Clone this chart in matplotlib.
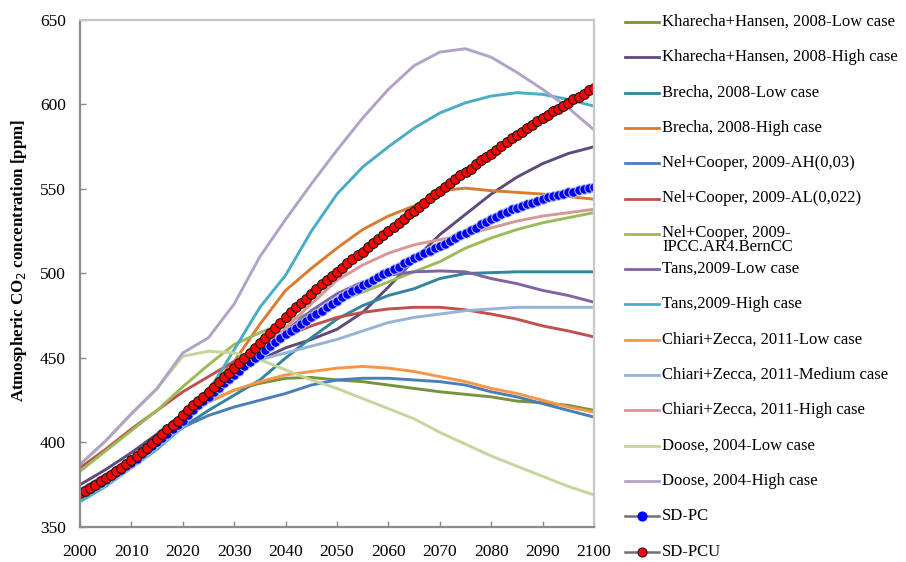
import matplotlib
matplotlib.use('Agg')
import matplotlib.pyplot as plt
from matplotlib.lines import Line2D

plt.rcParams['font.family'] = ['Liberation Serif', 'DejaVu Serif']

# Years for the literature scenarios (read every 5 years)
years = list(range(2000, 2101, 5))
# Years for the SD model runs (one marker per year)
years_all = list(range(2000, 2101))

kh_low = [371, 380, 390, 402, 414, 424, 431, 435, 438, 438.5, 437, 436, 434, 432, 430, 428.5, 427, 424.5, 423.5, 422, 419]
kh_high = [375, 384, 394, 405, 417, 429, 440, 449, 456, 461, 467, 477, 492, 508, 523, 535, 547, 557, 565, 571, 575]
brecha_low = [369, 378, 388, 398, 409, 419, 428, 437, 450, 462, 473, 481, 487, 491, 497, 500, 500.5, 501, 501, 501, 501]
brecha_high = [370, 380, 390, 402, 416, 432, 448, 470, 490, 503, 515, 526, 534, 540, 549, 550.5, 549, 548, 547, 545.5, 544]
nel_ah = [369, 378, 388, 399, 409, 416, 421, 425, 429, 434, 437, 438, 438, 437, 436, 434, 430, 427, 423, 419, 415]
nel_al = [385, 396, 408, 419, 430, 439, 448, 456, 463, 469, 474, 477, 479, 480, 480, 478.5, 476, 473, 469, 466, 462.5]
nel_ipcc = [383, 395, 407, 419, 433, 446, 458, 465, 471, 477, 483, 489, 495, 501, 507, 515, 521, 526, 530, 533, 536]
tans_low = [372, 381, 391, 403, 416, 429, 442, 454, 466, 478, 488, 495, 499, 501, 501.5, 501, 497, 494, 490, 487, 483]
tans_high = [365, 374, 385, 396, 409, 430, 455, 480, 499, 525, 547, 563, 575, 586, 595, 601, 605, 607, 606, 603, 599]
chiari_low = [370, 379, 389, 401, 414, 424, 431, 436, 440, 442, 444, 445, 444, 442, 439, 436, 432, 429, 425, 421, 418]
chiari_med = [370, 379, 389, 401, 414, 429, 443, 449, 453, 457, 461, 466, 471, 474, 476, 478, 479, 480, 480, 480, 480]
chiari_high = [370, 379, 389, 401, 414, 427, 440, 454, 468, 482, 496, 505, 512, 517, 520, 523, 527, 531, 534, 536, 538]
doose_low = [387, 401, 417, 432, 451, 454, 453, 449, 443, 437, 432, 426, 420, 414, 406, 399, 392, 386, 380, 374, 369]
doose_high = [387, 401, 417, 432, 453, 462, 482, 510, 532, 553, 573, 592, 609, 623, 631, 633, 628, 619, 609, 598, 585]

sd_pc = [370, 371.5, 373, 374.5, 376, 378, 380, 382, 384, 386,
         388, 390.5, 393, 395.5, 398, 400, 402.5, 405, 408, 410.5,
         413, 416, 419, 422, 424.5, 427, 430, 432.5, 435, 437.5,
         440, 442.5, 445, 447.5, 450, 452, 454.5, 457, 459.5, 462,
         464, 466, 468, 470, 472, 474, 476, 478, 480, 482,
         484, 486, 488, 489.5, 491, 493, 494.5, 496, 498, 499.5,
         501, 502.5, 504, 506, 507.5, 509, 510.5, 512, 513.5, 515,
         516, 517.5, 519, 521, 522.5, 524, 525.5, 527, 529, 530.5,
         532, 533.5, 535, 536.5, 538, 539, 540, 541, 542, 543,
         544, 545, 546, 546.5, 547, 548, 548.5, 549.5, 550, 550.5,
         551]
sd_pcu = [370, 371.5, 373, 375, 377, 379, 381, 383, 385, 387,
          389.5, 392, 394.5, 397, 399.5, 402, 405, 408, 410.5, 413,
          416, 419, 422, 424.5, 427, 430, 433, 436, 438.5, 441,
          444, 447, 450, 453, 456, 459, 462, 465, 468, 471,
          474, 477, 480, 482.5, 485, 488, 491, 493.5, 496, 498.5,
          501, 503.5, 506, 508.5, 511, 513, 515.5, 518, 520.5, 523,
          525, 527.5, 530, 532.5, 535, 537, 539.5, 542, 544.5, 547,
          549, 551, 553.5, 556, 558, 560, 562, 564.5, 567, 569,
          571, 573, 575.5, 578, 580, 582, 584, 586, 588, 590,
          592, 594, 596, 597.5, 599, 601, 603, 604.5, 606.5, 608.5,
          610]

labels = ['Kharecha+Hansen, 2008-Low case', 'Kharecha+Hansen, 2008-High case',
          'Brecha, 2008-Low case', 'Brecha, 2008-High case',
          'Nel+Cooper, 2009-AH(0,03)', 'Nel+Cooper, 2009-AL(0,022)',
          'Nel+Cooper, 2009-\nIPCC.AR4.BernCC',
          'Tans,2009-Low case', 'Tans,2009-High case',
          'Chiari+Zecca, 2011-Low case', 'Chiari+Zecca, 2011-Medium case',
          'Chiari+Zecca, 2011-High case',
          'Doose, 2004-Low case', 'Doose, 2004-High case',
          'SD-PC', 'SD-PCU']
series = [kh_low, kh_high, brecha_low, brecha_high, nel_ah, nel_al, nel_ipcc,
          tans_low, tans_high, chiari_low, chiari_med, chiari_high,
          doose_low, doose_high]
colors = ['#77933C', '#604A7B', '#31859C', '#D97B30', '#4A7EBB', '#C0504D',
          '#9BBB59', '#8064A2', '#4BACC6', '#F79646', '#95B3D7', '#D99694',
          '#C3D69B', '#B3A2C7']

fig = plt.figure(figsize=(9.06, 5.62), dpi=100)
ax = fig.add_axes([80 / 906, 35 / 562, 514 / 906, 507 / 562])

for vals, c in zip(series, colors):
    ax.plot(years, vals, color=c, lw=2.1, solid_joinstyle='round')

ax.plot(years_all, sd_pc, color='#808080', lw=1.5, marker='o', ms=6.8,
        markerfacecolor='#0000F0', markeredgecolor='#B8C4FF', markeredgewidth=0.7)
ax.plot(years_all, sd_pcu, color='#404040', lw=1.5, marker='o', ms=7.0,
        markerfacecolor='#FF0000', markeredgecolor='#1A1A1A', markeredgewidth=0.8)

ax.set_xlim(2000, 2100)
ax.set_ylim(350, 650)
ax.set_xticks(range(2000, 2101, 10))
ax.set_yticks(range(350, 651, 50))
ax.tick_params(direction='in', length=4, width=1, color='#8C8C8C',
               labelsize=12.5)
ax.tick_params(axis='y', pad=10)
ax.tick_params(axis='x', pad=12)
for side in ['left', 'bottom']:
    ax.spines[side].set_color('#8C8C8C')
    ax.spines[side].set_linewidth(1.6)
for side in ['top', 'right']:
    ax.spines[side].set_color('#C8C8C8')
    ax.spines[side].set_linewidth(1.6)

ax.set_ylabel('Atmospheric CO$_2$ concentration [ppm]', fontsize=12.2,
              fontweight='bold')
ax.yaxis.set_label_coords(-0.1, 0.525)

# Legend drawn entry by entry, as in the original figure
x0, x1, xt = 625 / 906, 659 / 906, 662 / 906
for i, label in enumerate(labels):
    yf = 1 - (22 + i * 35.3) / 562
    if i < len(colors):
        fig.add_artist(Line2D([x0, x1], [yf, yf], color=colors[i], lw=2.0))
    else:
        mfc = '#0000FF' if label == 'SD-PC' else '#FF0000'
        mec = '#0000FF' if label == 'SD-PC' else '#1A1A1A'
        fig.add_artist(Line2D([x0, x1], [yf, yf], color='#707070', lw=1.8))
        fig.add_artist(Line2D([(x0 + x1) / 2], [yf], marker='o', ms=6.5,
                              markerfacecolor=mfc, markeredgecolor=mec,
                              markeredgewidth=0.8))
    if '\n' in label:
        fig.text(xt, yf + 8.5 / 562, label, fontsize=12, va='top',
                 linespacing=0.8)
    else:
        fig.text(xt, yf, label, fontsize=12, va='center')

fig.savefig('out.png', dpi=100)
